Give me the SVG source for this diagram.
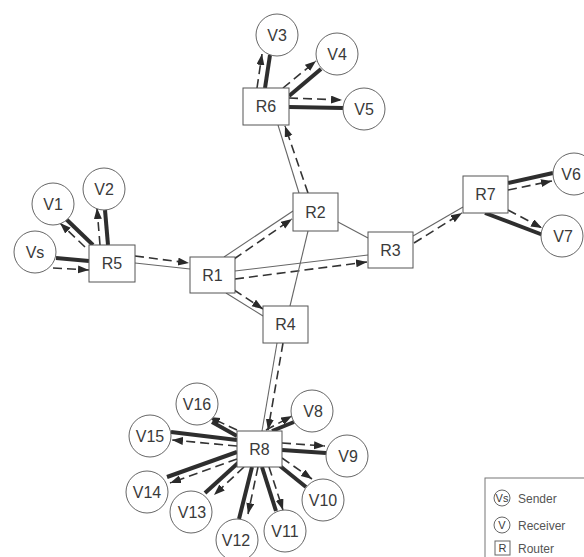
<svg xmlns="http://www.w3.org/2000/svg" width="584" height="557" viewBox="0 0 584 557">
<style>
.thin{stroke:#666;stroke-width:1.1;fill:none}
.thick{stroke:#2e2e2e;stroke-width:4;fill:none}
.dash{stroke:#333;stroke-width:1.6;stroke-dasharray:9 5;fill:none;marker-end:url(#ah)}
.rt rect{fill:#fff;stroke:#555;stroke-width:1}
.rc circle{fill:#fff;stroke:#666;stroke-width:1}
text{font-family:"Liberation Sans",Arial,sans-serif;fill:#3a3a3a;text-anchor:middle}
.lbl{font-size:16px}
.lg{font-size:12px;fill:#555;text-anchor:start}
</style>
<defs>
<marker id="ah" markerUnits="userSpaceOnUse" markerWidth="12" markerHeight="10" refX="11" refY="4" orient="auto">
<path d="M0,0 L11,4 L0,8 Z" fill="#2a2a2a"/>
</marker>
</defs>
<rect width="584" height="557" fill="#fff"/>
<g id="connectors">
<line class="thick" x1="56" y1="258" x2="89" y2="261"/>
<line class="dash" x1="53" y1="268" x2="89" y2="270"/>
<line class="thick" x1="93" y1="245" x2="66" y2="219"/>
<line class="dash" x1="85" y1="247" x2="60" y2="223"/>
<line class="thick" x1="108" y1="245" x2="105" y2="210"/>
<line class="dash" x1="100" y1="245" x2="97" y2="208"/>
<line class="thin" x1="135" y1="263" x2="190" y2="269"/>
<line class="dash" x1="135" y1="256" x2="189" y2="263"/>
<line class="thin" x1="224" y1="257" x2="293" y2="211"/>
<line class="dash" x1="234" y1="259" x2="292" y2="219"/>
<line class="thin" x1="235" y1="271" x2="368" y2="255"/>
<line class="dash" x1="235" y1="279" x2="367" y2="262"/>
<line class="thin" x1="226" y1="293" x2="263" y2="316"/>
<line class="dash" x1="234" y1="290" x2="263" y2="309"/>
<line class="thin" x1="338" y1="222" x2="368" y2="238"/>
<line class="thin" x1="308" y1="231" x2="290" y2="306"/>
<line class="thin" x1="278" y1="125" x2="299" y2="193"/>
<line class="dash" x1="308" y1="193" x2="285" y2="126"/>
<line class="thin" x1="413" y1="236" x2="463" y2="207"/>
<line class="dash" x1="414" y1="243" x2="462" y2="213"/>
<line class="thin" x1="277" y1="343" x2="262" y2="431"/>
<line class="dash" x1="283" y1="343" x2="268" y2="430"/>
<line class="thick" x1="265" y1="88" x2="270" y2="55"/>
<line class="dash" x1="257" y1="88" x2="262" y2="54"/>
<line class="thick" x1="289" y1="96" x2="321" y2="69"/>
<line class="dash" x1="283" y1="88" x2="316" y2="61"/>
<line class="thick" x1="289" y1="107" x2="343" y2="108"/>
<line class="dash" x1="289" y1="98" x2="342" y2="100"/>
<line class="thick" x1="508" y1="183" x2="553" y2="173"/>
<line class="dash" x1="508" y1="190" x2="552" y2="181"/>
<line class="thick" x1="485" y1="213" x2="543" y2="235"/>
<line class="dash" x1="508" y1="210" x2="542" y2="228"/>
<line class="thick" x1="272" y1="431" x2="294" y2="422"/>
<line class="dash" x1="266" y1="430" x2="292" y2="416"/>
<line class="thick" x1="282" y1="450" x2="326" y2="453"/>
<line class="dash" x1="282" y1="443" x2="325" y2="446"/>
<line class="thick" x1="280" y1="466" x2="306" y2="487"/>
<line class="dash" x1="282" y1="458" x2="312" y2="479"/>
<line class="thick" x1="262" y1="467" x2="276" y2="511"/>
<line class="dash" x1="269" y1="467" x2="283" y2="510"/>
<line class="thick" x1="252" y1="467" x2="239" y2="519"/>
<line class="dash" x1="258" y1="467" x2="248" y2="514"/>
<line class="thick" x1="238" y1="463" x2="205" y2="493"/>
<line class="dash" x1="244" y1="467" x2="214" y2="495"/>
<line class="thick" x1="237" y1="452" x2="167" y2="477"/>
<line class="dash" x1="237" y1="459" x2="170" y2="483"/>
<line class="thick" x1="237" y1="440" x2="171" y2="432"/>
<line class="dash" x1="237" y1="446" x2="172" y2="440"/>
<line class="thick" x1="237" y1="436" x2="212" y2="422"/>
<line class="dash" x1="237" y1="430" x2="209" y2="417"/>
</g>
<g id="Vs" class="rc"><circle cx="35" cy="252" r="21"/><text class="lbl" x="35" y="258">Vs</text></g>
<g id="V1" class="rc"><circle cx="53" cy="204" r="21"/><text class="lbl" x="53" y="210">V1</text></g>
<g id="V2" class="rc"><circle cx="104" cy="189" r="21"/><text class="lbl" x="104" y="195">V2</text></g>
<g id="V3" class="rc"><circle cx="277" cy="35" r="21"/><text class="lbl" x="277" y="41">V3</text></g>
<g id="V4" class="rc"><circle cx="337" cy="54" r="21"/><text class="lbl" x="337" y="60">V4</text></g>
<g id="V5" class="rc"><circle cx="364" cy="109" r="21"/><text class="lbl" x="364" y="115">V5</text></g>
<g id="V6" class="rc"><circle cx="574" cy="174" r="21"/><text class="lbl" x="571" y="180">V6</text></g>
<g id="V7" class="rc"><circle cx="562" cy="236" r="21"/><text class="lbl" x="563" y="242">V7</text></g>
<g id="V8" class="rc"><circle cx="312" cy="411" r="21"/><text class="lbl" x="313" y="417">V8</text></g>
<g id="V9" class="rc"><circle cx="347" cy="456" r="21"/><text class="lbl" x="348" y="462">V9</text></g>
<g id="V10" class="rc"><circle cx="323" cy="500" r="21"/><text class="lbl" x="323" y="506">V10</text></g>
<g id="V11" class="rc"><circle cx="285" cy="531" r="21"/><text class="lbl" x="285" y="537">V11</text></g>
<g id="V12" class="rc"><circle cx="237" cy="540" r="21"/><text class="lbl" x="236" y="546">V12</text></g>
<g id="V13" class="rc"><circle cx="191" cy="512" r="21"/><text class="lbl" x="192" y="518">V13</text></g>
<g id="V14" class="rc"><circle cx="147" cy="492" r="21"/><text class="lbl" x="147" y="498">V14</text></g>
<g id="V15" class="rc"><circle cx="150" cy="436" r="21"/><text class="lbl" x="150" y="442">V15</text></g>
<g id="V16" class="rc"><circle cx="197" cy="404" r="21"/><text class="lbl" x="197" y="410">V16</text></g>
<g id="R1" class="rt"><rect x="190" y="257" width="45" height="36"/><text class="lbl" x="212.5" y="281">R1</text></g>
<g id="R2" class="rt"><rect x="293" y="193" width="45" height="38"/><text class="lbl" x="315.5" y="218">R2</text></g>
<g id="R3" class="rt"><rect x="368" y="232" width="45" height="36"/><text class="lbl" x="390.5" y="256">R3</text></g>
<g id="R4" class="rt"><rect x="263" y="306" width="45" height="37"/><text class="lbl" x="285.5" y="330">R4</text></g>
<g id="R5" class="rt"><rect x="89" y="245" width="46" height="37"/><text class="lbl" x="112" y="269">R5</text></g>
<g id="R6" class="rt"><rect x="243" y="88" width="46" height="37"/><text class="lbl" x="266" y="112">R6</text></g>
<g id="R7" class="rt"><rect x="463" y="176" width="45" height="37"/><text class="lbl" x="485.5" y="200">R7</text></g>
<g id="R8" class="rt"><rect x="237" y="431" width="45" height="36"/><text class="lbl" x="259.5" y="455">R8</text></g>
<g id="legend">
<rect x="485" y="478" width="110" height="90" fill="#fff" stroke="#777" stroke-width="1"/>
<circle cx="502" cy="498" r="8" fill="#fff" stroke="#666"/>
<text x="502" y="502" font-size="11px" fill="#555">Vs</text>
<text class="lg" x="518" y="503">Sender</text>
<circle cx="502" cy="525" r="8" fill="#fff" stroke="#666"/>
<text x="502" y="529" font-size="11px" fill="#555">V</text>
<text class="lg" x="518" y="530">Receiver</text>
<rect x="495" y="541" width="15" height="14" fill="#fff" stroke="#666"/>
<text x="502.5" y="552" font-size="11px" fill="#555">R</text>
<text class="lg" x="518" y="553">Router</text>
</g>
</svg>
